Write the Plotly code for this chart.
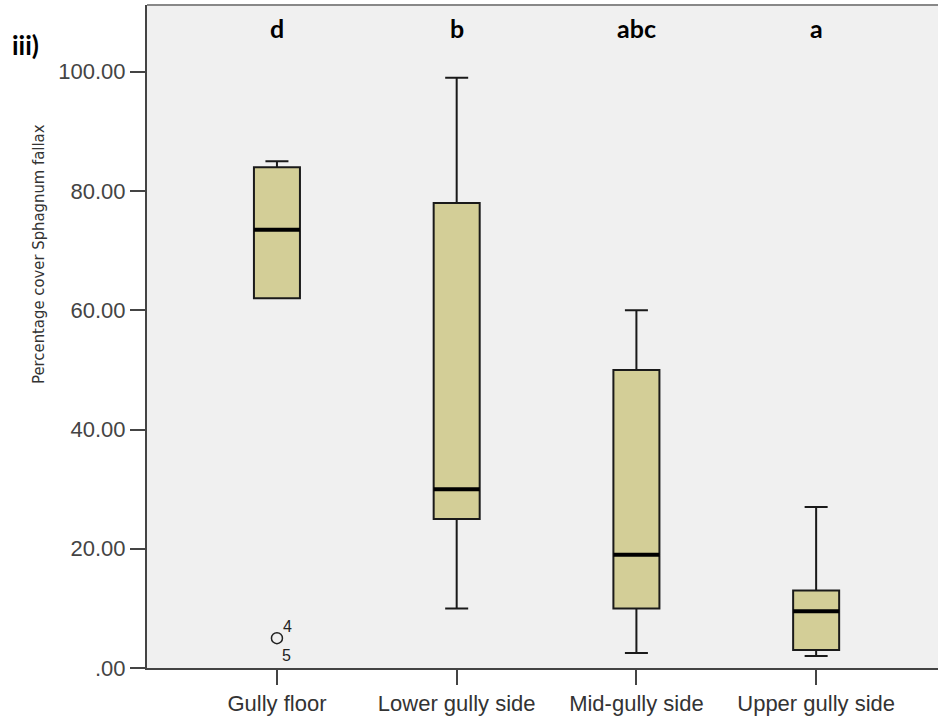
import plotly.graph_objects as go

categories = ["Gully floor", "Lower gully side", "Mid-gully side", "Upper gully side"]
lower_whisker = [62.0, 10.0, 2.5, 2.0]
q1_vals = [62.0, 25.0, 10.0, 3.0]
median_vals = [73.5, 30.0, 19.0, 9.5]
q3_vals = [84.0, 78.0, 50.0, 13.0]
upper_whisker = [85.0, 99.0, 60.0, 27.0]
sig_letters = ["d", "b", "abc", "a"]
outlier_cat = [0]
outlier_vals = [5.0]
outlier_ids = ["4", "5"]
y_ticks = [0, 20, 40, 60, 80, 100]
y_tick_text = [".00", "20.00", "40.00", "60.00", "80.00", "100.00"]

pos = list(range(len(categories)))
BOX_W = 0.256
FONT = "Liberation Sans, Arial, sans-serif"
NARROW = "DejaVu Sans Condensed, sans-serif"
BOLD_FONT = "Lato, sans-serif"

fig = go.Figure()
fig.add_trace(go.Box(
    x=pos, q1=q1_vals, median=median_vals, q3=q3_vals,
    lowerfence=lower_whisker, upperfence=upper_whisker,
    width=BOX_W, whiskerwidth=0.5,
    fillcolor="#d3ce97", line=dict(color="#1a1a1a", width=2),
    boxpoints=False, showlegend=False, hoverinfo="skip",
))

# thick median lines
mx, my = [], []
for p, m in zip(pos, median_vals):
    mx += [p - BOX_W / 2, p + BOX_W / 2, None]
    my += [m, m, None]
fig.add_trace(go.Scatter(x=mx, y=my, mode="lines",
                         line=dict(color="black", width=4),
                         showlegend=False, hoverinfo="skip"))

# outlier
fig.add_trace(go.Scatter(
    x=outlier_cat, y=outlier_vals, mode="markers",
    marker=dict(symbol="circle-open", size=11, color="#222222", line=dict(width=1.5)),
    showlegend=False, hoverinfo="skip"))

anns = []
for c, v in zip(outlier_cat, outlier_vals):
    anns.append(dict(x=c, y=v, text=outlier_ids[0], showarrow=False, xshift=11, yshift=12,
                     font=dict(family=FONT, size=16, color="#222222")))
    anns.append(dict(x=c, y=v, text=outlier_ids[1], showarrow=False, xshift=10, yshift=-17,
                     font=dict(family=FONT, size=16, color="#222222")))

for p, s in zip(pos, sig_letters):
    anns.append(dict(x=p, y=107.3, text="<b>" + s + "</b>", showarrow=False,
                     font=dict(family=BOLD_FONT, size=25, color="black")))

anns.append(dict(xref="paper", yref="paper", x=-0.173, y=107.5 / 111.2, text="<b>iii)</b>",
                 showarrow=False, xanchor="left",
                 font=dict(family=BOLD_FONT, size=26, color="black")))
anns.append(dict(xref="paper", yref="y", x=-0.152, y=69.5,
                 text="Percentage cover Sphagnum fallax", textangle=-90, showarrow=False,
                 font=dict(family=NARROW, size=16.5, color="#333333")))

fig.update_layout(
    width=938, height=720,
    margin=dict(l=147, r=0, t=5, b=52),
    paper_bgcolor="white", plot_bgcolor="#f0f0f0",
    annotations=anns,
    xaxis=dict(range=[-0.723, 3.678], tickvals=pos, ticktext=categories,
               showgrid=False, zeroline=False, showline=True, linecolor="#444444", linewidth=2,
               ticks="outside", ticklen=15, tickwidth=2, tickcolor="#444444",
               tickfont=dict(family=FONT, size=22, color="#333333"), mirror=False),
    yaxis=dict(range=[0, 111.2], tickvals=y_ticks, ticktext=y_tick_text,
               showgrid=False, zeroline=False, showline=True, linecolor="#444444", linewidth=2,
               ticks="outside", ticklen=15, tickwidth=2, tickcolor="#444444",
               tickfont=dict(family=FONT, size=22, color="#444444")),
    shapes=[dict(type="line", xref="paper", yref="paper", x0=0, x1=1, y0=1, y1=1,
                 line=dict(color="#888888", width=2))],
)

fig.write_html("out.html", config={"displayModeBar": False},
               post_script="document.body.style.margin='0';")
